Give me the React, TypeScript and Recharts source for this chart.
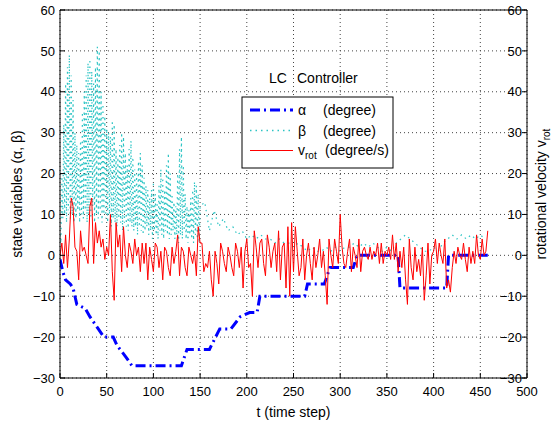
import React from 'react'
import { LineChart, Line, XAxis, YAxis, CartesianGrid, Customized } from 'recharts'

// alpha (degree): step-like controller state, read at its corners
const alphaTime = [0, 3, 6, 11, 14, 18, 27, 32, 41, 47, 57, 61, 71, 77, 130, 136, 160, 171, 183, 193, 203, 211, 214, 262, 265, 283, 289, 314, 318, 362, 364, 414, 416, 458]
const alphaValues = [-1, -4, -6, -7, -8, -12, -13, -15, -18, -20, -20, -22, -25, -27, -27, -23, -23, -18, -18, -15, -14, -14, -10, -10, -7, -7, -3, -3, 0, 0, -8, -8, 0, 0]

// beta (degree): peaks on even steps, troughs on odd steps, t = 0..150
const betaPeaks = [
    5, 20, 32, 42, 46, 49, 44, 38, 30, 27,
    25, 28, 35, 40, 44, 47, 48, 45, 42, 46,
    51, 50, 40, 37, 34, 31, 30, 29, 33, 32,
    26, 24, 27, 30, 29, 25, 22, 26, 28, 24,
    21, 20, 23, 25, 22, 19, 17, 16, 14, 16,
    18, 15, 13, 17, 21, 19, 16, 22, 25, 20,
    15, 13, 12, 20, 26, 29, 22, 15, 12, 11,
    14, 16, 18, 17, 15, 12,
]
const betaTroughs = [
    3, 9, 10, 8, 11, 9, 10, 8, 9, 11,
    8, 10, 9, 11, 8, 10, 9, 12, 8, 10,
    9, 11, 8, 10, 9, 8, 10, 7, 9, 8,
    7, 9, 8, 6, 8, 7, 6, 8, 7, 6,
    7, 5, 7, 6, 5, 6, 7, 5, 6, 4,
    6, 5, 4, 6, 5, 4, 6, 5, 4, 5,
    6, 4, 5, 3, 5, 4, 6, 4, 3, 5,
    4, 3, 5, 4, 3,
]
// beta after t = 150, every 5 steps
const betaTailStart = 155
const betaTailStep = 5
const betaTail = [
    13, 6, 11, 7, 9, 6, 7, 5, 6, 4,
    5, 4, 5, 4, 4, 3, 4, 3, 3, 2,
    3, 2, 1, 2, 1, 1, 2, 1, 2, 1,
    2, 2, 3, 2, 3, 2, 3, 2, 1, 2,
    1, 3, 4, 5, 4, 3, 2, 1, 1, 2,
    1, 3, 4, 5, 4, 5, 4, 5, 4, 5,
    4,
]

// v_rot (degree/s), every 2 steps from t = 0
const vrotStep = 2
const vrotValues = [
    0, 3, -2, 5, -3, 4, 14, 12, 2, 1,
    -6, 6, 1, 2, 0, -2, 12, 14, -2, 8,
    3, 6, 2, 4, -1, 2, 0, 10, -4, -11,
    8, 2, 5, -4, 7, 0, -3, 3, 1, -2,
    4, 0, 2, -4, 3, -2, 3, -6, 2, -1,
    -4, 3, 2, -3, 1, -6, 2, 1, -3, -5,
    2, -2, 1, 5, -5, 2, 1, -3, -5, 2,
    0, -2, 1, -5, 7, 3, 3, -4, -2, -3,
    1, -6, -10, 1, -2, -7, 3, 1, -2, -4,
    2, 0, -3, -5, 3, 1, -3, 2, -8, 1,
    4, -3, -2, -10, 6, 2, -3, 3, 4, -2,
    -5, 5, 2, -3, 1, 3, -4, 6, -6, 2,
    3, -8, 7, -10, 8, -4, 7, 1, -5, -3,
    4, -6, 0, 3, -2, -6, 2, -3, 0, 4,
    -3, 1, -5, -12, 4, 0, -3, 4, 1, -2,
    10, 2, -2, -3, 1, 4, -4, 2, 0, -3,
    4, -4, 1, 2, 0, -1, 2, -1, 1, 0,
    3, -2, 3, -2, 1, 0, 2, -1, 5, -1,
    3, -4, 1, -3, 2, -6, -12, 4, -3, -6,
    2, -4, -1, -5, 2, -11, -5, 3, -7, 0,
    1, 4, -2, 3, 0, -2, 4, -8, -6, -9,
    -3, 1, -2, 2, 0, -1, 3, -1, -4, 2,
    -2, 1, -2, 5, 0, -1, 4, 0, 1, 6,
]

const xTicks = [0, 50, 100, 150, 200, 250, 300, 350, 400, 450, 500]
const yTicks = [-30, -20, -10, 0, 10, 20, 30, 40, 50, 60]

const alphaData = alphaTime.map((t, i) => ({ t, alpha: alphaValues[i] }))
const betaData = [
    ...betaPeaks.flatMap((p, i) =>
        i < betaTroughs.length ? [{ t: 2 * i, beta: p }, { t: 2 * i + 1, beta: betaTroughs[i] }] : [{ t: 2 * i, beta: p }]
    ),
    ...betaTail.map((v, i) => ({ t: betaTailStart + i * betaTailStep, beta: v })),
]
const vrotData = vrotValues.map((v, i) => ({ t: i * vrotStep, vrot: v }))

const FONT = '"Liberation Sans", Arial, Helvetica, sans-serif'
const TICK_LEN = 5

const fmt = (v: number) => (v < 0 ? '\u2212' + Math.abs(v) : String(v))

// left axis: text x comes in already shifted by tickMargin (5)
function LeftTick({ x, y, payload }: any) {
    return (
        <g>
            <line x1={x + 5} x2={x + 5 + TICK_LEN} y1={y} y2={y} stroke="#000" />
            <text x={x} y={y} dy="0.36em" textAnchor="end" fontSize={13} fontFamily={FONT} fill="#000">
                {fmt(payload.value)}
            </text>
        </g>
    )
}

// right axis: labels sit just inside the plot, as in the reference
function RightTick({ x, y, payload }: any) {
    return (
        <g>
            <line x1={x} x2={x - TICK_LEN} y1={y} y2={y} stroke="#000" />
            <text x={x - 5} y={y} dy="0.36em" textAnchor="end" fontSize={13} fontFamily={FONT} fill="#000">
                {fmt(payload.value)}
            </text>
        </g>
    )
}

function BottomTick({ x, y, payload }: any) {
    return (
        <g>
            <line x1={x} x2={x} y1={y - 9} y2={y - 9 - TICK_LEN} stroke="#000" />
            <text x={x} y={y} dy="0.71em" textAnchor="middle" fontSize={13} fontFamily={FONT} fill="#000">
                {payload.value}
            </text>
        </g>
    )
}

function TopTick({ x, y }: any) {
    return <line x1={x} x2={x} y1={y} y2={y + TICK_LEN} stroke="#000" />
}

function Overlay() {
    return (
        <g fontFamily={FONT} fill="#000">
            <text x={22} y={194} fontSize={14} textAnchor="middle" transform="rotate(-90 22 194)">
                state variables (α, β)
            </text>
            <text x={546} y={194} fontSize={14} textAnchor="middle" transform="rotate(-90 546 194)">
                rotational velocity v<tspan fontSize={10} dy={4}>rot</tspan>
            </text>
            <text x={293.5} y={417} fontSize={14} textAnchor="middle">t (time step)</text>

            <text x={269} y={83} fontSize={14}>LC</text>
            <text x={297} y={83} fontSize={14}>Controller</text>

            <rect x={242} y={97} width={151} height={71} fill="#fff" stroke="#000" />
            <line x1={250} x2={293} y1={110} y2={110} stroke="#0000ff" strokeWidth={3} strokeDasharray="10 4 2 4" />
            <text x={298} y={115} fontSize={14}>α</text>
            <text x={323} y={115} fontSize={14}>(degree)</text>
            <line x1={250} x2={293} y1={130.5} y2={130.5} stroke="#2cc4c4" strokeWidth={1.5} strokeDasharray="1.5 4" />
            <text x={298} y={135.5} fontSize={14}>β</text>
            <text x={323} y={135.5} fontSize={14}>(degree)</text>
            <line x1={250} x2={293} y1={150.5} y2={150.5} stroke="#ff0000" strokeWidth={1} />
            <text x={298} y={155} fontSize={14}>v<tspan fontSize={10} dy={4}>rot</tspan></text>
            <text x={325} y={155} fontSize={14}>(degree/s)</text>
        </g>
    )
}

export default function App() {
    return (
        <div style={{ position: 'absolute', left: 0, top: 0, background: '#fff' }}>
            <LineChart width={554} height={421} margin={{ top: 0, right: 0, bottom: 0, left: 0 }}>
                <CartesianGrid yAxisId="left" stroke="#444" strokeDasharray="1 3" />
                <XAxis
                    dataKey="t"
                    type="number"
                    domain={[0, 500]}
                    ticks={xTicks}
                    height={43}
                    tickSize={0}
                    tickMargin={9}
                    tickLine={false}
                    axisLine={{ stroke: '#000' }}
                    tick={BottomTick}
                    interval={0}
                    allowDataOverflow
                />
                <XAxis
                    xAxisId="top"
                    orientation="top"
                    type="number"
                    domain={[0, 500]}
                    ticks={xTicks}
                    height={10}
                    tickSize={0}
                    tickMargin={0}
                    tickLine={false}
                    axisLine={{ stroke: '#000' }}
                    tick={TopTick}
                    interval={0}
                />
                <YAxis
                    yAxisId="left"
                    type="number"
                    domain={[-30, 60]}
                    ticks={yTicks}
                    width={60}
                    tickSize={0}
                    tickMargin={5}
                    tickLine={false}
                    axisLine={{ stroke: '#000' }}
                    tick={LeftTick}
                    interval={0}
                    allowDataOverflow
                />
                <YAxis
                    yAxisId="right"
                    orientation="right"
                    type="number"
                    domain={[-30, 60]}
                    ticks={yTicks}
                    width={27}
                    tickSize={0}
                    tickMargin={0}
                    tickLine={false}
                    axisLine={{ stroke: '#000' }}
                    tick={RightTick}
                    interval={0}
                    allowDataOverflow
                />
                <Line
                    yAxisId="left"
                    data={alphaData}
                    dataKey="alpha"
                    type="linear"
                    stroke="#0000ff"
                    strokeWidth={3}
                    strokeDasharray="10 4 2 4"
                    dot={false}
                    isAnimationActive={false}
                />
                <Line
                    yAxisId="left"
                    data={betaData}
                    dataKey="beta"
                    type="linear"
                    stroke="#2cc4c4"
                    strokeWidth={1.2}
                    strokeDasharray="1.5 4"
                    dot={false}
                    isAnimationActive={false}
                />
                <Line
                    yAxisId="right"
                    data={vrotData}
                    dataKey="vrot"
                    type="linear"
                    stroke="#ff0000"
                    strokeWidth={1}
                    dot={false}
                    isAnimationActive={false}
                />
                <Customized component={Overlay} />
            </LineChart>
        </div>
    )
}
